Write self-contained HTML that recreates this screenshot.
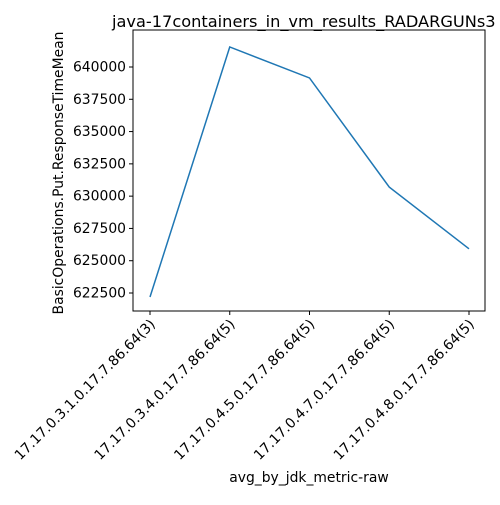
<!DOCTYPE html>
<html><head><meta charset="utf-8"><style>
body{margin:0;background:#fff}
svg{font-family:"DejaVu Sans","Liberation Sans",sans-serif}
</style></head><body>
<svg id="c" width="500" height="500" xmlns="http://www.w3.org/2000/svg">
<rect width="500" height="500" fill="#fff"/>
<text x="112" y="27" font-size="16.2">java-17containers_in_vm_results_RADARGUNs3</text>
<g id="plot"></g>
<text x="309" y="482" font-size="13.9" text-anchor="middle">avg_by_jdk_metric-raw</text>
<text transform="translate(63,173) rotate(-90)" font-size="13.9" text-anchor="middle">BasicOperations.Put.ResponseTimeMean</text>
</svg>
<script>
const categories=["17.17.0.3.1.0.17.7.86.64(3)","17.17.0.3.4.0.17.7.86.64(5)","17.17.0.4.5.0.17.7.86.64(5)","17.17.0.4.7.0.17.7.86.64(5)","17.17.0.4.8.0.17.7.86.64(5)"];
const values=[622190,641550,639150,630700,625920];
const yTicks=[622500,625000,627500,630000,632500,635000,637500,640000];
const L=133,R=485,T=30,B=311;
const NS="http://www.w3.org/2000/svg";
const g=document.getElementById('plot');
function xs(i){return 150+i*(469-150)/(categories.length-1);}
function ys(v){return 293-(v-622500)*(293-67)/(640000-622500);}
function mk(t,a){const e=document.createElementNS(NS,t);for(const k in a)e.setAttribute(k,a[k]);g.appendChild(e);return e;}
const fr=mk('rect',{x:L,y:T,width:R-L,height:B-T,fill:'none',stroke:'#000','stroke-width':1});


yTicks.forEach(v=>{
 const y=ys(v);
 const tk=mk('line',{x1:L-4,x2:L,y1:y,y2:y,stroke:'#000'});
 
 
 const t=mk('text',{x:L-7,y:y+4.5,'font-size':13.9,'text-anchor':'end'});
 t.textContent=v;
 
 
});
categories.forEach((c,i)=>{
 const x=xs(i);
 const tk=mk('line',{x1:x,x2:x,y1:B,y2:B+4,stroke:'#000'});
 
 
 const t=mk('text',{transform:`translate(${x+6},${B+14}) rotate(-45)`,'font-size':13.9,'text-anchor':'end'});
 t.textContent=c;
 
 
});
const ln=mk('polyline',{points:values.map((v,i)=>xs(i)+','+ys(v)).join(' '),fill:'none',stroke:'#1f77b4','stroke-width':1.5});


</script>
</body></html>
